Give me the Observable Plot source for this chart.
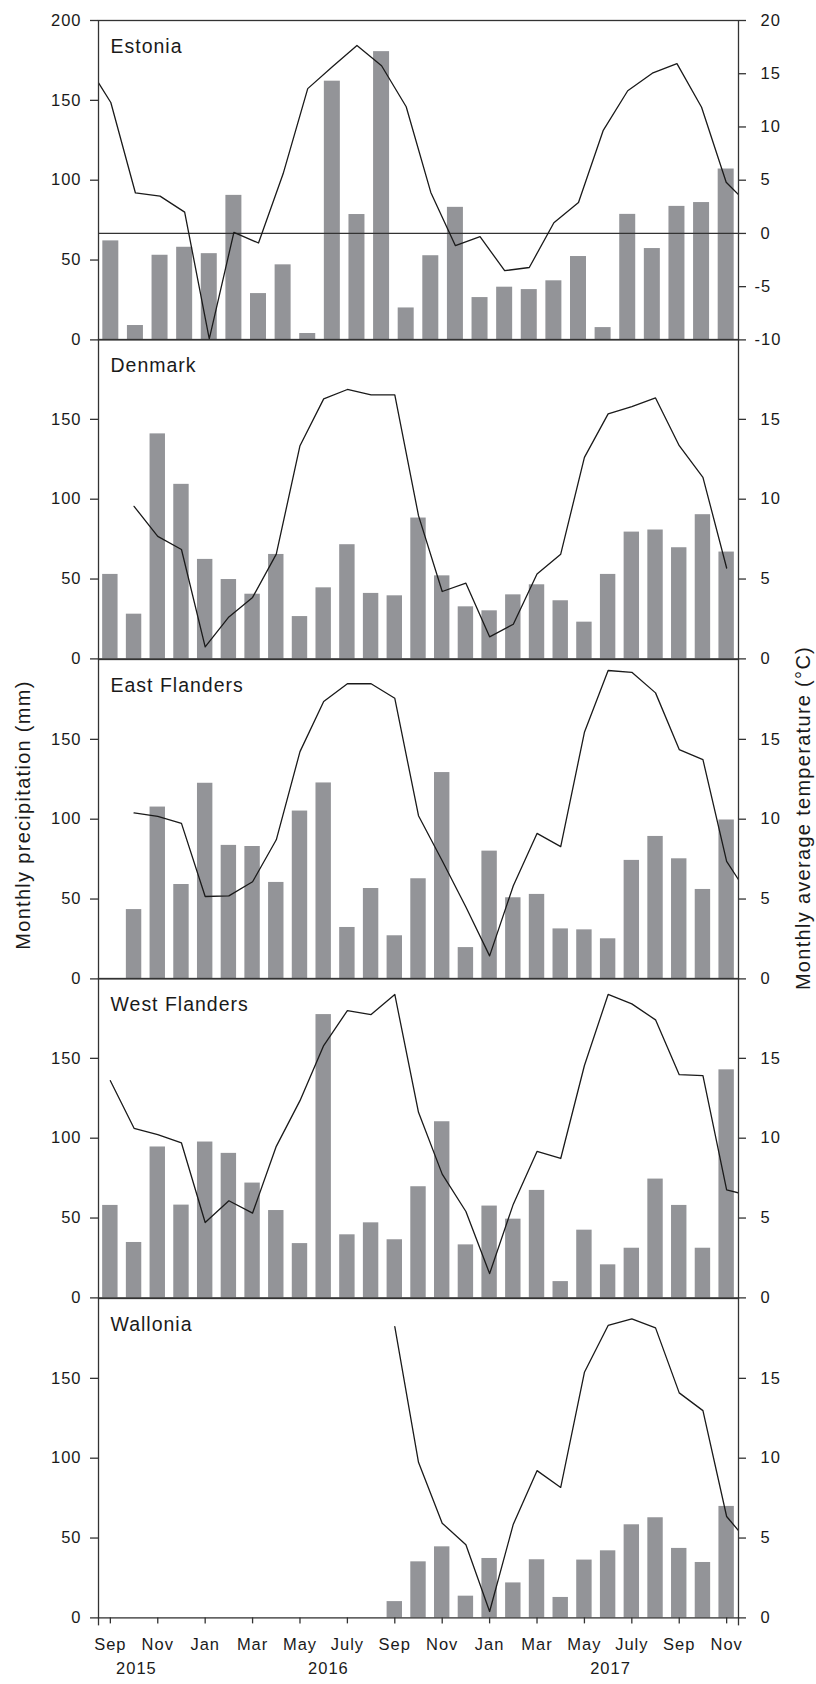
<!DOCTYPE html>
<html><head><meta charset="utf-8">
<script src="https://cdn.jsdelivr.net/npm/d3@7"></script>
<script src="https://cdn.jsdelivr.net/npm/@observablehq/plot@0.6"></script>
<style>
body{margin:0;background:#fff;}
#fig{position:relative;width:816px;height:1684px;background:#fff;font-family:"Liberation Sans",Arial,sans-serif;color:#1a1a1a;overflow:hidden;}
.panel{position:absolute;left:0;}
.ytitle{position:absolute;white-space:nowrap;font-size:20px;letter-spacing:1.3px;transform:translate(-50%,-50%) rotate(-90deg);}
</style></head><body><div id="fig"></div>
<script>
// ---- data ----
const monthTickLabels = ["Sep","Nov","Jan","Mar","May","July","Sep","Nov","Jan","Mar","May","July","Sep","Nov"];
const years = ["2015","2016","2017"];
const regions = ["Estonia","Denmark","East Flanders","West Flanders","Wallonia"];

// precipitation (mm): Estonia Sep 2015 - Oct 2017, others Sep 2015 - Nov 2017
const precipEstonia = [62, 9, 53, 58, 54, 90.5, 29, 47, 4, 162, 78.5, 180.5, 20, 52.7, 83, 26.5, 33, 31.5, 37, 52.2, 7.7, 78.6, 57.2, 83.6, 86, 107];
const precipDenmark = [52.9, 28.0, 140.9, 109.3, 62.3, 49.7, 40.5, 65.4, 26.5, 44.5, 71.5, 41.0, 39.5, 88.2, 52.0, 32.6, 30.1, 40.1, 46.4, 36.4, 23.0, 52.9, 79.4, 80.7, 69.6, 90.3, 66.9];
const precipEastFlanders = [null, 43.4, 107.6, 59.1, 122.5, 83.6, 82.9, 60.4, 105.1, 122.7, 32.2, 56.6, 27.0, 62.7, 129.2, 19.6, 80.0, 50.8, 52.9, 31.3, 30.7, 25.1, 74.2, 89.2, 75.2, 56.0, 99.5];
const precipWestFlanders = [57.9, 34.7, 94.5, 58.1, 97.6, 90.5, 71.9, 54.7, 34.0, 177.4, 39.5, 47.0, 36.4, 69.6, 110.3, 33.2, 57.5, 49.3, 67.3, 10.2, 42.4, 20.7, 31.1, 74.4, 57.9, 31.1, 142.8];
const precipWallonia = [null, null, null, null, null, null, null, null, null, null, null, null, 10.2, 35.1, 44.5, 13.6, 37.2, 21.9, 36.4, 12.8, 36.2, 42.0, 58.3, 62.7, 43.5, 34.7, 69.8];

// monthly average temperature (°C): Aug 2015 onward (Estonia to Nov 2017, others to Dec 2017)
const tempEstonia = [16.0, 12.3, 3.8, 3.5, 2.0, -9.9, 0.1, -0.9, 5.6, 13.6, 15.65, 17.65, 15.75, 11.9, 3.85, -1.15, -0.3, -3.5, -3.2, 1.0, 2.9, 9.65, 13.4, 15.05, 15.95, 11.85, 4.8, 2.5];
const tempDenmark = [null, null, 9.55, 7.67, 6.85, 0.75, 2.63, 3.85, 6.56, 13.35, 16.28, 16.87, 16.53, 16.53, 8.97, 4.22, 4.74, 1.38, 2.17, 5.31, 6.56, 12.62, 15.34, 15.8, 16.34, 13.35, 11.37, 5.69, null];
const tempEastFlanders = [null, null, 10.39, 10.18, 9.74, 5.16, 5.2, 6.08, 8.71, 14.23, 17.37, 18.48, 18.48, 17.57, 10.22, 7.4, 4.5, 1.44, 5.83, 9.11, 8.28, 15.44, 19.31, 19.2, 17.91, 14.36, 13.73, 7.36, 5.07];
const tempWestFlanders = [null, 13.6, 10.62, 10.22, 9.7, 4.72, 6.08, 5.31, 9.49, 12.35, 15.8, 17.99, 17.74, 19.0, 11.62, 7.75, 5.41, 1.52, 5.87, 9.17, 8.73, 14.55, 19.0, 18.41, 17.41, 13.98, 13.92, 6.77, 6.38];
const tempWallonia = [null, null, null, null, null, null, null, null, null, null, null, null, null, 18.24, 9.74, 5.93, 4.58, 0.4, 5.87, 9.22, 8.17, 15.38, 18.31, 18.73, 18.16, 14.09, 12.98, 6.35, 4.58];

const leftTicksEstonia = [0, 50, 100, 150, 200];
const leftTicksOther = [0, 50, 100, 150];
const rightTicksEstonia = [-10, -5, 0, 5, 10, 15, 20];
const rightTicksOther = [0, 5, 10, 15];

// ---- layout ----
const precipAll = [precipEstonia, precipDenmark, precipEastFlanders, precipWestFlanders, precipWallonia];
const tempAll = [tempEstonia, tempDenmark, tempEastFlanders, tempWestFlanders, tempWallonia];
const fig = document.getElementById("fig");
const panelTop0 = 20, panelH = 319.4;
const BAR = "#939498", INK = "#1a1a1a", AX = "#333";

regions.forEach((name, k) => {
  const precip = precipAll[k];
  const temp = tempAll[k];
  const isEst = k === 0;
  const last = k === regions.length - 1;
  const nSlots = precip.length;
  const tMin = isEst ? -10 : 0;
  const toMm = t => (t - tMin) / (20 - tMin) * 200;
  const leftTicks = isEst ? leftTicksEstonia : leftTicksOther;
  const rightTicks = isEst ? rightTicksEstonia : rightTicksOther;
  const bars = precip.map((p, i) => ({i, p})).filter(d => d.p != null);
  const pts = temp.map((t, j) => ({i: j - 1, t})).filter(d => d.t != null);
  const mt = 30, mb = last ? 80 : 30;

  const marks = [
    Plot.rectY(bars, {x1: d => d.i - 0.325, x2: d => d.i + 0.325, y: "p", fill: BAR}),
  ];
  if (isEst) marks.push(Plot.ruleY([toMm(0)], {stroke: AX, strokeWidth: 1.3}));
  marks.push(
    Plot.line(pts, {x: "i", y: d => toMm(d.t), stroke: INK, strokeWidth: 1.3, clip: true}),
    Plot.frame({stroke: AX, strokeWidth: 1.3}),
    Plot.axisY(leftTicks, {anchor: "left", tickSize: 8, tickPadding: 9, tickFormat: d => String(d), stroke: AX, strokeWidth: 1.3, label: null}),
    Plot.axisY(rightTicks.map(toMm), {anchor: "right", tickSize: 7, tickFormat: () => "", stroke: AX, strokeWidth: 1.3, label: null}),
    Plot.text(rightTicks.filter(t => t >= 0), {y: toMm, frameAnchor: "right", dx: 22, textAnchor: "start", text: d => String(d)}),
    Plot.text(rightTicks.filter(t => t < 0), {y: toMm, frameAnchor: "right", dx: 16, textAnchor: "start", text: d => String(d)}),
    Plot.text([name], {frameAnchor: "top-left", dx: 12, dy: 26, textAnchor: "start", lineAnchor: "middle", fontSize: 19.5, text: d => d})
  );
  if (last) {
    marks.push(
      Plot.axisX(d3.range(0, nSlots, 2), {anchor: "bottom", tickSize: 6, tickPadding: 14, tickFormat: d => monthTickLabels[d / 2], stroke: AX, strokeWidth: 1.3, label: null}),
      Plot.ruleX([-0.5, nSlots - 0.5], {y1: () => 0, y2: () => -5, stroke: AX, strokeWidth: 1.3}),
      Plot.text(years, {x: (d, j) => [1.1, 9.2, 21.1][j], frameAnchor: "bottom", dy: 56, text: d => d})
    );
  }

  const chart = Plot.plot({
    width: 816,
    height: panelH + mt + mb,
    marginLeft: 98,
    marginRight: 78,
    marginTop: mt,
    marginBottom: mb,
    style: "background:transparent;overflow:visible;font-family:'Liberation Sans',Arial,sans-serif;font-size:16.5px;letter-spacing:1px;color:#1a1a1a;",
    x: {type: "linear", domain: [-0.5, nSlots - 0.5], axis: last ? undefined : null},
    y: {type: "linear", domain: [0, 200]},
    marks
  });
  const div = document.createElement("div");
  div.className = "panel";
  div.style.top = (panelTop0 + k * panelH - mt) + "px";
  div.appendChild(chart);
  fig.appendChild(div);
});

const lt = document.createElement("div");
lt.className = "ytitle";
lt.style.left = "22.5px"; lt.style.top = "815px";
lt.textContent = "Monthly precipitation (mm)";
fig.appendChild(lt);
const rt = document.createElement("div");
rt.className = "ytitle";
rt.style.left = "803px"; rt.style.top = "818px";
rt.textContent = "Monthly average temperature (°C)";
fig.appendChild(rt);
</script>
</body></html>
